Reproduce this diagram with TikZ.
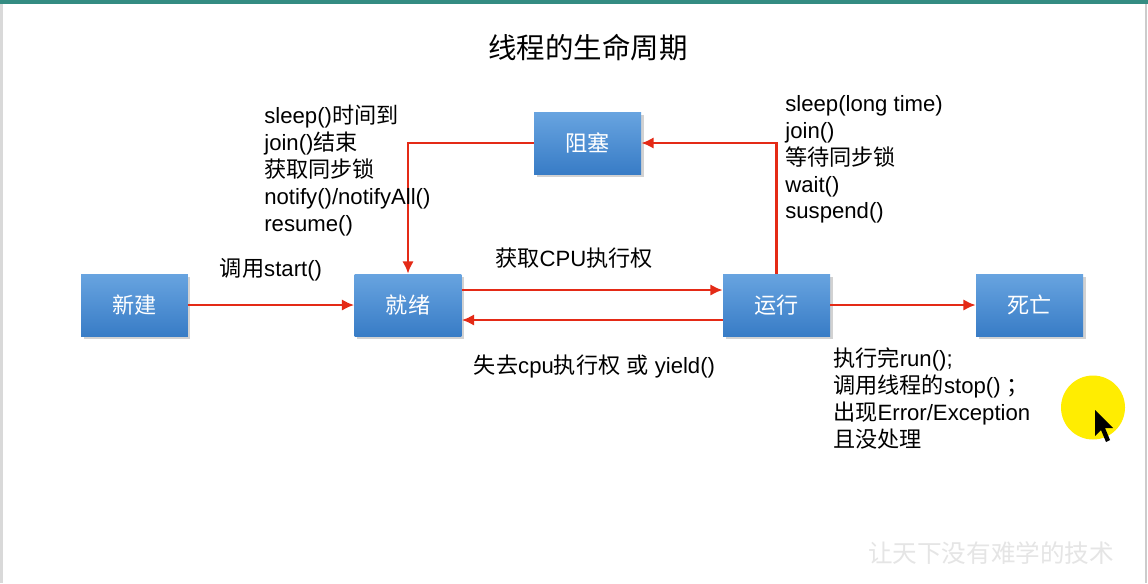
\documentclass[tikz,border=0pt]{standalone}
\usepackage{fontspec}
\setmainfont{Liberation Sans}
\newfontfamily\cjk{Noto Sans CJK SC}
\newcommand{\zh}[1]{{\cjk #1}}
\usetikzlibrary{arrows.meta,positioning,shadows}

\definecolor{boxtop}{RGB}{104,164,224}
\definecolor{boxbot}{RGB}{56,124,198}
\definecolor{arrowred}{RGB}{228,42,22}
\definecolor{slidebar}{RGB}{52,140,130}

\begin{document}
\begin{tikzpicture}
  [x=0.02cm,y=-0.02cm,
   every node/.style={font=\fontsize{12.6}{15.3}\selectfont,inner sep=0pt},
   state/.style={rectangle,minimum width=2.14cm,minimum height=1.24cm,
     top color=boxtop,bottom color=boxbot,text=white,
     drop shadow={shadow xshift=0.05cm,shadow yshift=-0.06cm,opacity=0.35}},
   trans/.style={draw=arrowred,line width=1.3pt,-{Latex[length=7pt,width=6.5pt]}},
   note/.style={align=left,anchor=west}]

  % slide
  \fill[white] (0,0) rectangle (1148,583);
  \fill[slidebar] (0,0) rectangle (1148,4);
  \fill[gray!30] (0,4) rectangle (3,583);
  \fill[gray!40] (1145,4) rectangle (1147,583);

  \node (title) at (588,48) {\fontsize{16.2}{20}\selectfont\zh{线程的生命周期}};

  \node[state] (xj) at (134.5,305) {\zh{新建}};
  \node[state] (jx) at (408,305)   {\zh{就绪}};
  \node[state] (yx) at (776.5,305) {\zh{运行}};
  \node[state] (sw) at (1029.5,305) {\zh{死亡}};
  \node[state] (zs) at (587.5,143) {\zh{阻塞}};

  \foreach \from/\to in {xj/jx,yx/sw}
    \draw[trans] (\from) -- (\to);
  \draw[trans] ([yshift=0.3cm]jx.east) -- ([yshift=0.3cm]yx.west);
  \draw[trans] ([yshift=-0.3cm]yx.west) -- ([yshift=-0.3cm]jx.east);
  \draw[trans] (yx.north) |- (zs.east);
  \draw[trans] (zs.west) -| (jx.north);

  \node (start) at (271,270) {\zh{调用}start()};
  \node (getcpu) at (574,258) {\zh{获取}CPU\zh{执行权}};
  \node (losecpu) at (594.5,366) {\zh{失去}cpu\zh{执行权} \zh{或} yield()};

  \node[note] (wake) at (264,170.5)
    {sleep()\zh{时间到}\\join()\zh{结束}\\\zh{获取同步锁}\\notify()/notifyAll()\\resume()};
  \node[note] (block) at (785,159.5)
    {sleep(long time)\\join()\\\zh{等待同步锁}\\wait()\\suspend()};
  \node[note] (dead) at (833,398.5)
    {\zh{执行完}run();\\\zh{调用线程的}stop() \zh{；}\\\zh{出现}Error/Exception\\\zh{且没处理}};

  % watermark and pointer
  \node[text=gray!20] (mark) at (991,553) {\fontsize{14}{16}\selectfont\zh{让天下没有难学的技术}};
  \fill[yellow!95!orange] (1093,407.5) circle (0.64cm);
  \fill[black] (1095,410) -- (1095,436) -- (1101,430) -- (1106,442) -- (1110,440) -- (1105,428) -- (1113,428) -- cycle;

  \useasboundingbox (0,0) rectangle (1148,583);
\end{tikzpicture}
\end{document}
